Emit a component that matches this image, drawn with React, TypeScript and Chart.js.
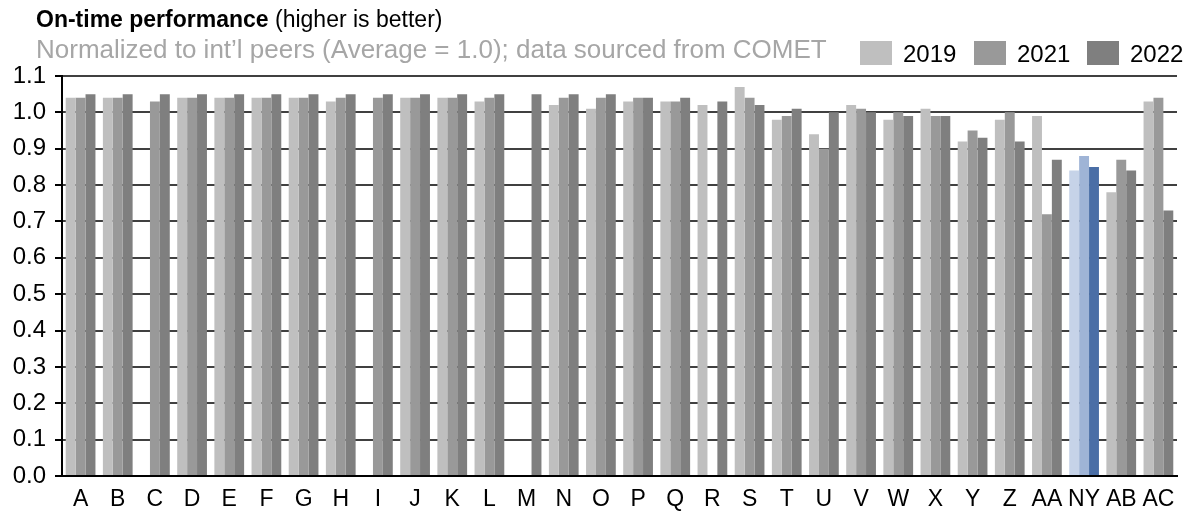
import React, { useEffect, useRef } from "react";
import { Chart, registerables } from "chart.js";

Chart.register(...registerables);

const categories = ["A","B","C","D","E","F","G","H","I","J","K","L","M","N","O","P","Q","R","S","T","U","V","W","X","Y","Z","AA","NY","AB","AC"];
const seriesNames = ["2019", "2021", "2022"];
const values2019 = [1.04,1.04,null,1.04,1.04,1.04,1.04,1.03,null,1.04,1.04,1.03,null,1.02,1.01,1.03,1.03,1.02,1.07,0.98,0.94,1.02,0.98,1.01,0.92,0.98,0.99,0.84,0.78,1.03];
const values2021 = [1.04,1.04,1.03,1.04,1.04,1.04,1.04,1.04,1.04,1.04,1.04,1.04,null,1.04,1.04,1.04,1.03,null,1.04,0.99,0.90,1.01,1.00,0.99,0.95,1.00,0.72,0.88,0.87,1.04];
const values2022 = [1.05,1.05,1.05,1.05,1.05,1.05,1.05,1.05,1.05,1.05,1.05,1.05,1.05,1.05,1.05,1.04,1.04,1.03,1.02,1.01,1.00,1.00,0.99,0.99,0.93,0.92,0.87,0.85,0.84,0.73];
const yTicks = [0, 0.1, 0.2, 0.3, 0.4, 0.5, 0.6, 0.7, 0.8, 0.9, 1.0, 1.1];
const highlight = "NY";

const grayColors = ["#bfbfbf", "#999999", "#7f7f7f"];
const blueColors = ["#c6d3e8", "#9fb4d6", "#4a6ea6"];

const FONT = "'Liberation Sans', Arial, sans-serif";

const headerPlugin = {
  id: "header",
  afterDraw(chart: any) {
    const ctx = chart.ctx;
    ctx.save();
    ctx.textBaseline = "alphabetic";
    ctx.textAlign = "left";
    // title
    ctx.fillStyle = "#000";
    ctx.font = `bold 23px ${FONT}`;
    const boldText = "On-time performance";
    ctx.fillText(boldText, 36, 27);
    const w = ctx.measureText(boldText).width;
    ctx.font = `23px ${FONT}`;
    ctx.fillText(" (higher is better)", 36 + w, 27);
    // subtitle
    ctx.fillStyle = "#a6a6a6";
    ctx.font = `26px ${FONT}`;
    ctx.fillText("Normalized to int\u2019l peers (Average = 1.0); data sourced from COMET", 36, 58);
    // legend
    const boxX = [860, 974, 1087];
    ctx.font = `24px ${FONT}`;
    seriesNames.forEach((name, i) => {
      ctx.fillStyle = grayColors[i];
      ctx.fillRect(boxX[i], 41, 32, 24);
      ctx.fillStyle = "#000";
      ctx.fillText(name, boxX[i] + 43, 62);
    });
    ctx.restore();
  },
};

function colorFor(series: number) {
  return (c: any) => (categories[c.dataIndex] === highlight ? blueColors[series] : grayColors[series]);
}

export default function App() {
  const ref = useRef<HTMLCanvasElement | null>(null);
  useEffect(() => {
    document.body.style.margin = "0";
    const canvas = ref.current!;
    const chart = new Chart(canvas, {
      type: "bar",
      data: {
        labels: categories,
        datasets: [values2019, values2021, values2022].map((d, i) => ({
          label: seriesNames[i],
          data: d,
          backgroundColor: colorFor(i),
          borderWidth: 0,
          categoryPercentage: 0.8,
          barPercentage: 1.0,
        })),
      },
      options: {
        animation: false,
        responsive: false,
        maintainAspectRatio: false,
        layout: { padding: { top: 76, right: 12, left: 0, bottom: 0 } },
        plugins: { legend: { display: false }, title: { display: false }, tooltip: { enabled: false } },
        scales: {
          x: {
            grid: { display: false },
            border: { color: "#000", width: 2 },
            ticks: { color: "#000", font: { family: FONT, size: 23 }, padding: 2, maxRotation: 0, autoSkip: false },
            afterFit: (s: any) => { s.height = 37; },
          },
          y: {
            min: 0,
            max: 1.1,
            afterBuildTicks: (s: any) => { s.ticks = yTicks.map((v) => ({ value: v })); },
            grid: { color: "#404040", lineWidth: 2, tickColor: "#000", tickLength: 7, tickWidth: 2 },
            border: { color: "#000", width: 2 },
            ticks: { color: "#000", font: { family: FONT, size: 24 }, padding: 9, callback: (v: any) => Number(v).toFixed(1) },
            afterFit: (s: any) => { s.width = 62; },
          },
        },
      },
      plugins: [headerPlugin],
    });
    return () => chart.destroy();
  }, []);
  return (
    <div style={{ position: "absolute", left: 0, top: 0, width: 1189, height: 513 }}>
      <canvas ref={ref} width={1189} height={513} style={{ width: 1189, height: 513 }} />
    </div>
  );
}
